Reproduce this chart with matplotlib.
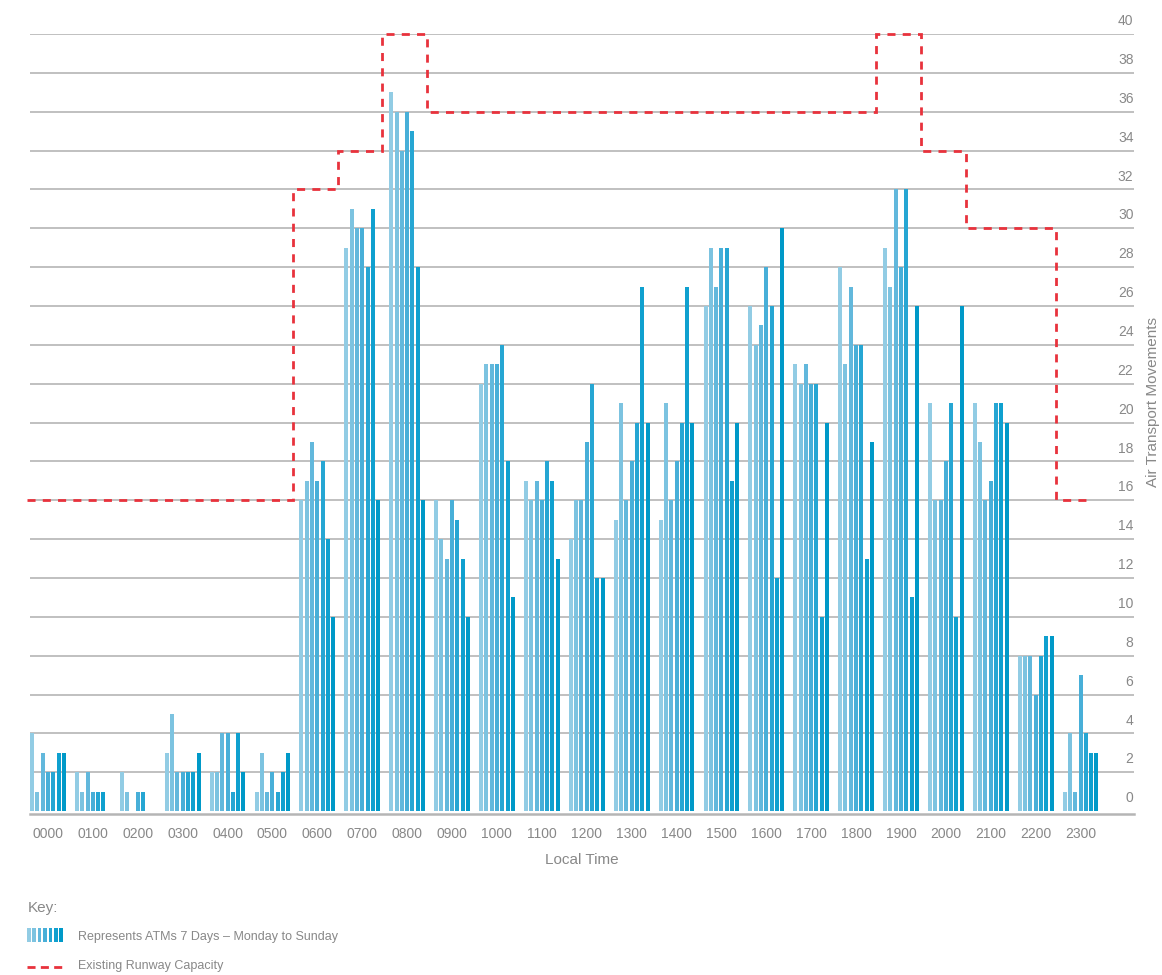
import numpy as np
import matplotlib
matplotlib.use('Agg')
import matplotlib.pyplot as plt
from matplotlib.patches import Rectangle
from matplotlib.lines import Line2D

plt.rcParams['font.family'] = ['Liberation Sans', 'DejaVu Sans']

# hour labels
hours = ['0000', '0100', '0200', '0300', '0400', '0500', '0600', '0700',
         '0800', '0900', '1000', '1100', '1200', '1300', '1400', '1500',
         '1600', '1700', '1800', '1900', '2000', '2100', '2200', '2300']

# air transport movements per hour, one series per day
mon = [4, 2, 2, 3, 2, 1, 16, 29, 37, 16, 22, 17, 14, 15, 15, 26, 26, 23, 28, 29, 21, 21, 8, 1]
tue = [1, 1, 1, 5, 2, 3, 17, 31, 36, 14, 23, 16, 16, 21, 21, 29, 24, 22, 23, 27, 16, 19, 8, 4]
wed = [3, 2, 0, 2, 4, 1, 19, 30, 34, 13, 23, 17, 16, 16, 16, 27, 25, 23, 27, 32, 16, 16, 8, 1]
thu = [2, 1, 1, 2, 4, 2, 17, 30, 36, 16, 23, 16, 19, 18, 18, 29, 28, 22, 24, 28, 18, 17, 6, 7]
fri = [2, 1, 1, 2, 1, 1, 18, 28, 35, 15, 24, 18, 22, 20, 20, 29, 26, 22, 24, 32, 21, 21, 8, 4]
sat = [3, 1, 0, 2, 4, 2, 14, 31, 28, 13, 18, 17, 12, 27, 27, 17, 12, 10, 13, 11, 10, 21, 9, 3]
sun = [3, 0, 0, 3, 2, 3, 10, 16, 16, 10, 11, 13, 12, 20, 20, 20, 30, 20, 19, 26, 26, 20, 9, 3]

# existing runway capacity per hour
capacity = [16, 16, 16, 16, 16, 16, 32, 34, 40, 36, 36, 36,
            36, 36, 36, 36, 36, 36, 36, 40, 34, 30, 30, 16]

days = [mon, tue, wed, thu, fri, sat, sun]
day_colors = ['#92cce4', '#7cc3e0', '#62b8dc', '#48afd8', '#26a6d3', '#0fa0cf', '#0099c8']
text_gray = '#888888'
red = '#e8323c'
dash = (0, (2.9, 2.6))

W, H = 1162, 975
fig = plt.figure(figsize=(W / 100, H / 100), dpi=100)
ax = fig.add_axes([30 / W, 1 - 814 / H, (1134 - 30) / W, (814 - 34) / H])

x = np.arange(len(hours))
pitch = 0.118
width = 0.089

# grid lines
for v in range(2, 41, 2):
    ax.axhline(v, color='#b5b5b5', lw=1.2, zorder=0)

for i, (vals, c) in enumerate(zip(days, day_colors)):
    ax.bar(x + (i - 3) * pitch, vals, width=width, color=c, zorder=2)

# capacity step line
edges = np.r_[-0.47, x[1:] - 0.55, 23.27]
ax.stairs(capacity, edges, baseline=None, color=red, lw=2.0,
          linestyle=dash, zorder=3, clip_on=False)

ax.set_xlim(-0.40, 24.19)
ax.set_ylim(-0.15, 40)

for s in ['top', 'left', 'right']:
    ax.spines[s].set_visible(False)
ax.spines['bottom'].set_color('#b5b5b5')
ax.spines['bottom'].set_linewidth(1.8)

ax.set_xticks(x)
ax.set_xticklabels(hours)
ax.tick_params(axis='x', length=0, pad=9, labelsize=10, labelcolor=text_gray)
ax.set_yticks([])
ax.set_xlabel('Local Time', fontsize=11, color=text_gray, labelpad=9)

# right-hand value labels sitting above the grid lines
for v in range(0, 41, 2):
    ax.text(0.9995, v + 0.3, str(v), transform=ax.get_yaxis_transform(),
            ha='right', va='bottom', fontsize=10, color=text_gray)

fig.text(1153 / W, 1 - 402 / H, 'Air Transport Movements', rotation=90,
         ha='center', va='center', fontsize=11, color=text_gray)

# key
fig.text(28 / W, 1 - 908 / H, 'Key:', ha='left', va='center', fontsize=11, color=text_gray)
for i, c in enumerate(day_colors):
    fig.patches.append(Rectangle(((27 + i * 5.4) / W, 1 - 942 / H), 3.6 / W, 14 / H,
                                 transform=fig.transFigure, facecolor=c, edgecolor='none'))
fig.text(78 / W, 1 - 937 / H, 'Represents ATMs 7 Days \u2013 Monday to Sunday',
         ha='left', va='center', fontsize=9, color=text_gray)
fig.lines.append(Line2D([27 / W, 63 / W], [1 - 967 / H, 1 - 967 / H], transform=fig.transFigure,
                        color=red, lw=2.0, linestyle=(0, (2.9, 1.9))))
fig.text(78 / W, 1 - 966 / H, 'Existing Runway Capacity',
         ha='left', va='center', fontsize=9, color=text_gray)

fig.savefig('out.png', dpi=100)
